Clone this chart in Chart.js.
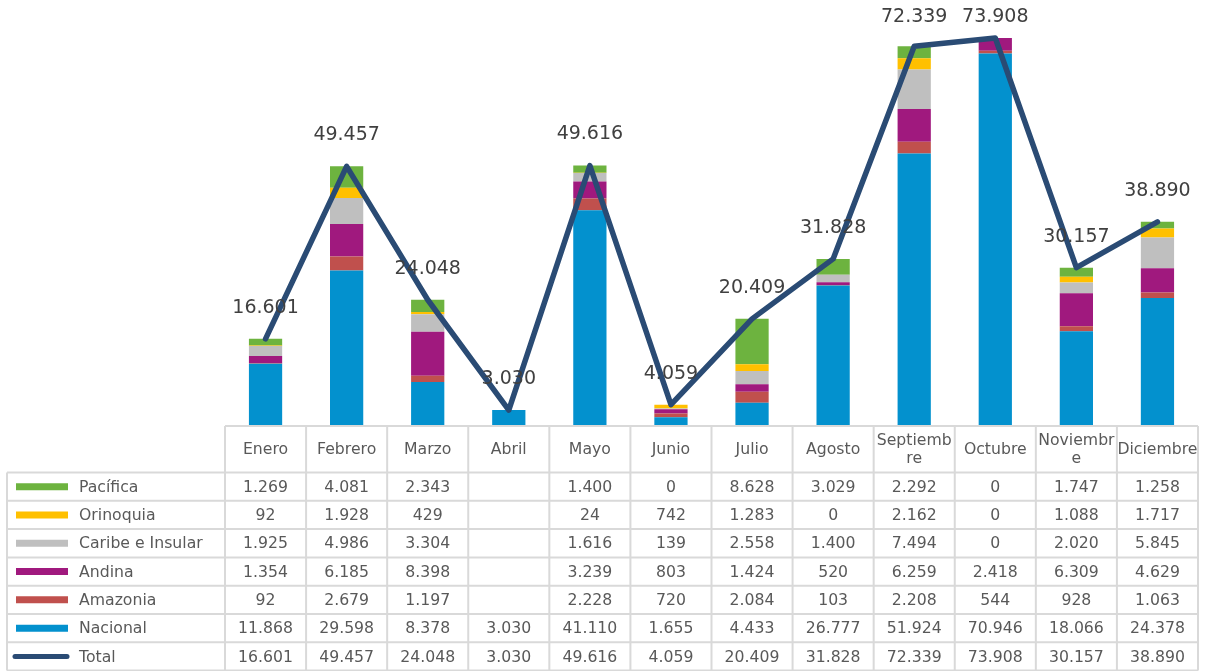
<!DOCTYPE html>
<html>
<head>
<meta charset="utf-8">
<script src="https://cdn.jsdelivr.net/npm/chart.js@4.4.1/dist/chart.umd.min.js"></script>
<style>
html,body{margin:0;padding:0;background:#ffffff;}
#wrap{width:1207px;height:671px;position:relative;}
</style>
</head>
<body>
<div id="wrap"><canvas id="c" width="1207" height="671"></canvas></div>
<script>
// ---- data ----
const categories = ['Enero','Febrero','Marzo','Abril','Mayo','Junio','Julio','Agosto','Septiembre','Octubre','Noviembre','Diciembre'];
const headerLines = [['Enero'],['Febrero'],['Marzo'],['Abril'],['Mayo'],['Junio'],['Julio'],['Agosto'],['Septiemb','re'],['Octubre'],['Noviembr','e'],['Diciembre']];
const pacifica  = [1269, 4081, 2343, null, 1400, 0, 8628, 3029, 2292, 0, 1747, 1258];
const orinoquia = [92, 1928, 429, null, 24, 742, 1283, 0, 2162, 0, 1088, 1717];
const caribe    = [1925, 4986, 3304, null, 1616, 139, 2558, 1400, 7494, 0, 2020, 5845];
const andina    = [1354, 6185, 8398, null, 3239, 803, 1424, 520, 6259, 2418, 6309, 4629];
const amazonia  = [92, 2679, 1197, null, 2228, 720, 2084, 103, 2208, 544, 928, 1063];
const nacional  = [11868, 29598, 8378, 3030, 41110, 1655, 4433, 26777, 51924, 70946, 18066, 24378];
const total     = [16601, 49457, 24048, 3030, 49616, 4059, 20409, 31828, 72339, 73908, 30157, 38890];
const yMax = 80000;

const colors = {
  pacifica:'#6DB33F', orinoquia:'#FFC000', caribe:'#BFBFBF',
  andina:'#A0197E', amazonia:'#C0504D', nacional:'#0391CE', total:'#2A4B74'
};

function fmt(v){
  if (v === null || v === undefined) return '';
  const s = String(Math.round(v));
  return s.replace(/\B(?=(\d{3})+(?!\d))/g, '.');
}

// table rows (top to bottom)
const tableRows = [
  {label:'Pacífica', data:pacifica, color:colors.pacifica, line:false},
  {label:'Orinoquia', data:orinoquia, color:colors.orinoquia, line:false},
  {label:'Caribe e Insular', data:caribe, color:colors.caribe, line:false},
  {label:'Andina', data:andina, color:colors.andina, line:false},
  {label:'Amazonia', data:amazonia, color:colors.amazonia, line:false},
  {label:'Nacional', data:nacional, color:colors.nacional, line:false},
  {label:'Total', data:total, color:colors.total, line:true}
];

const FONT = '"DejaVu Sans", Verdana, sans-serif';
const TEXT = '#595959';
const GRID = '#D9D9D9';

const labelPlugin = {
  id:'totLabels',
  afterDatasetsDraw(chart){
    const ctx = chart.ctx;
    const meta = chart.getDatasetMeta(6);
    ctx.save();
    ctx.font = '19px ' + FONT;
    ctx.fillStyle = '#404040';
    ctx.textAlign = 'center';
    ctx.textBaseline = 'middle';
    meta.data.forEach((pt, i) => {
      ctx.fillText(fmt(total[i]), pt.x, Math.max(pt.y - 31, 17));
    });
    ctx.restore();
  }
};

const tablePlugin = {
  id:'dataTable',
  afterDraw(chart){
    const ctx = chart.ctx;
    const xs = chart.scales.x;
    const area = chart.chartArea;
    const n = categories.length;
    const cw = (area.right - area.left) / n;
    const top = area.bottom;
    const headH = 46.5;
    const rowH = 28.3;
    const leftX = 7;
    const bodyTop = top + headH;
    const bottom = bodyTop + rowH * tableRows.length;

    ctx.save();
    ctx.strokeStyle = GRID;
    ctx.lineWidth = 2;
    ctx.beginPath();
    ctx.moveTo(area.left, top); ctx.lineTo(area.right, top);
    for (let r = 0; r <= tableRows.length; r++){
      const y = bodyTop + r * rowH;
      ctx.moveTo(leftX, y); ctx.lineTo(area.right, y);
    }
    for (let i = 0; i <= n; i++){
      const x = area.left + i * cw;
      ctx.moveTo(x, top); ctx.lineTo(x, bottom);
    }
    ctx.moveTo(leftX, bodyTop); ctx.lineTo(leftX, bottom);
    ctx.stroke();

    ctx.fillStyle = TEXT;
    ctx.textAlign = 'center';
    ctx.textBaseline = 'middle';
    ctx.font = '15.7px ' + FONT;
    headerLines.forEach((lines, i) => {
      const cx = xs.getPixelForValue(i);
      const cy = top + headH / 2 + 1;
      if (lines.length === 1){
        ctx.fillText(lines[0], cx, cy);
      } else {
        ctx.fillText(lines[0], cx, cy - 9);
        ctx.fillText(lines[1], cx, cy + 9);
      }
    });
    tableRows.forEach((row, r) => {
      const cy = bodyTop + r * rowH + rowH / 2 + 1;
      row.data.forEach((v, i) => {
        ctx.fillText(fmt(v), xs.getPixelForValue(i), cy);
      });
      ctx.save();
      ctx.strokeStyle = row.color;
      if (row.line){
        ctx.lineWidth = 5; ctx.lineCap = 'round';
        ctx.beginPath(); ctx.moveTo(15, cy - 1); ctx.lineTo(67, cy - 1); ctx.stroke();
      } else {
        ctx.lineWidth = 7; ctx.lineCap = 'butt';
        ctx.beginPath(); ctx.moveTo(16, cy - 1); ctx.lineTo(68, cy - 1); ctx.stroke();
      }
      ctx.restore();
      ctx.textAlign = 'left';
      ctx.fillText(row.label, 79, cy);
      ctx.textAlign = 'center';
    });
    ctx.restore();
  }
};

function barDS(label, data, color){
  return {type:'bar', label, data, backgroundColor:color, borderWidth:0,
          barPercentage:0.41, categoryPercentage:1, order:1, yAxisID:'y', stack:'s'};
}

new Chart(document.getElementById('c'), {
  data:{
    labels: categories,
    datasets:[
      barDS('Nacional', nacional, colors.nacional),
      barDS('Amazonia', amazonia, colors.amazonia),
      barDS('Andina', andina, colors.andina),
      barDS('Caribe e Insular', caribe, colors.caribe),
      barDS('Orinoquia', orinoquia, colors.orinoquia),
      barDS('Pacífica', pacifica, colors.pacifica),
      {type:'line', label:'Total', data: total, borderColor: colors.total, backgroundColor: colors.total,
       borderWidth:5.5, pointRadius:0, tension:0, borderCapStyle:'round', borderJoinStyle:'round',
       order:0, yAxisID:'y2', fill:false}
    ]
  },
  options:{
    responsive:false,
    animation:false,
    devicePixelRatio:1,
    layout:{padding:{left:225, right:9, top:6, bottom:245}},
    plugins:{legend:{display:false}, tooltip:{enabled:false}},
    scales:{
      x:{display:false, stacked:true, offset:true, grid:{display:false}},
      y:{display:false, stacked:true, min:0, max:yMax},
      y2:{display:false, stacked:false, min:0, max:yMax}
    }
  },
  plugins:[labelPlugin, tablePlugin]
});
</script>
</body>
</html>
